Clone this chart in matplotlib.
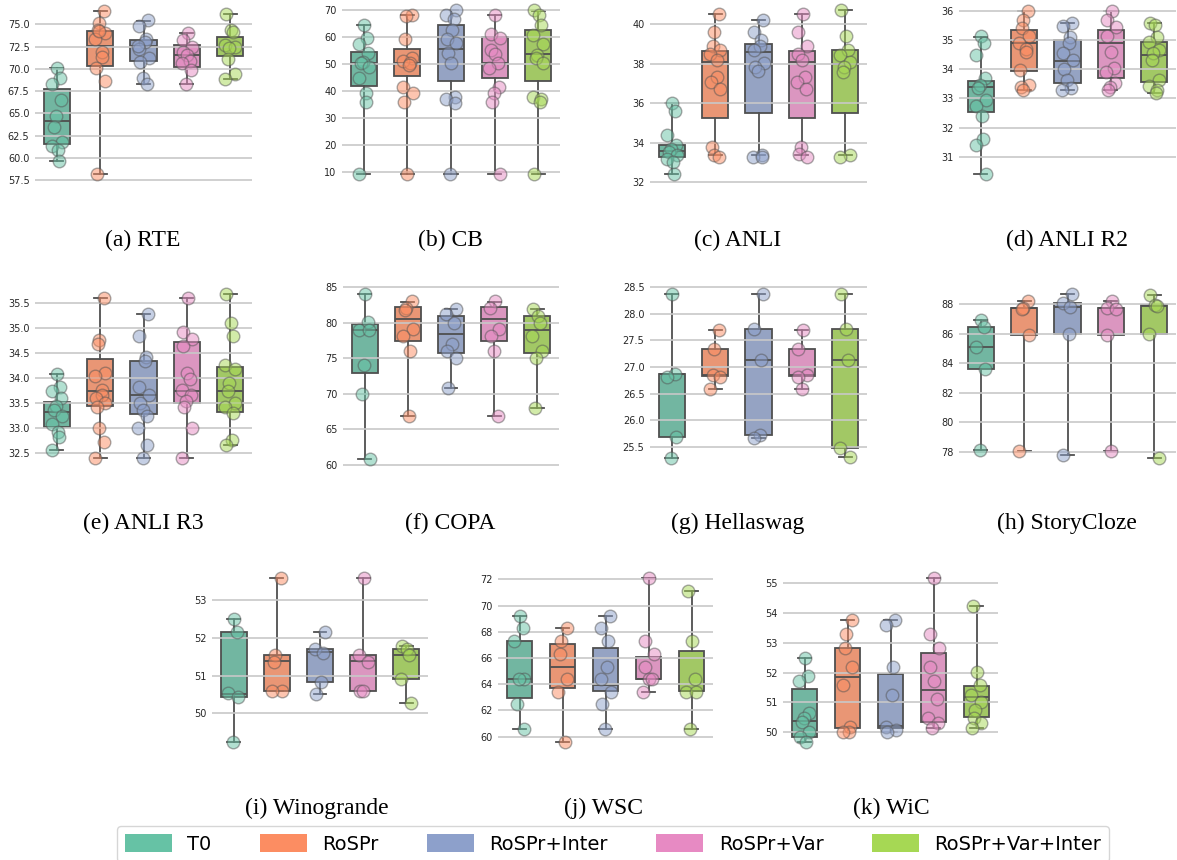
import colorsys
import numpy as np
import matplotlib
matplotlib.use("Agg")
import matplotlib.pyplot as plt
import matplotlib.colors as mcolors
from matplotlib.patches import Patch
from matplotlib.ticker import MultipleLocator

# %% data
methods = ["T0", "RoSPr", "RoSPr+Inter", "RoSPr+Var", "RoSPr+Var+Inter"]
palette = ["#66c2a5", "#fc8d62", "#8da0cb", "#e78ac3", "#a6d854"]

# boxes: [q1, median, q3, whisker low, whisker high] per method
rte_points = [
    [70.05, 69.0, 68.3, 66.5, 64.7, 63.5, 61.8, 61.3, 60.9, 59.6],
    [76.5, 75.1, 74.4, 74.0, 73.3, 71.9, 71.3, 70.05, 68.6, 58.2, 74.2],
    [75.5, 74.8, 73.3, 73.0, 72.2, 71.2, 70.8, 69.0, 68.3, 72.6],
    [74.0, 73.2, 72.5, 71.9, 71.5, 70.9, 70.6, 69.9, 68.3],
    [76.2, 74.4, 74.1, 72.7, 72.5, 72.3, 71.1, 69.4, 68.9],
]
rte_boxes = [
    [61.5, 64.1, 67.7, 59.6, 70.05],
    [70.3, 72.6, 74.3, 58.2, 76.5],
    [70.9, 72.6, 73.2, 68.3, 75.4],
    [70.2, 71.5, 72.7, 68.3, 74.0],
    [71.4, 72.4, 73.6, 68.9, 76.2],
]

cb_points = [
    [64.4, 59.5, 57.3, 53.9, 50.8, 50.2, 49.0, 44.6, 39.3, 35.7, 9.1],
    [68.0, 67.8, 59.1, 52.1, 51.2, 50.2, 49.6, 41.3, 39.3, 35.7, 9.1],
    [70.0, 68.1, 66.5, 62.6, 59.1, 57.6, 53.9, 50.2, 37.8, 36.8, 35.6, 9.1],
    [68.0, 61.1, 59.5, 55.1, 53.7, 50.2, 48.3, 41.3, 39.3, 35.7, 9.1],
    [70.0, 68.1, 64.4, 60.7, 57.3, 53.3, 52.1, 50.2, 37.8, 36.8, 35.7, 9.1],
]
cb_boxes = [
    [41.9, 50.2, 54.5, 9.1, 64.4],
    [45.5, 50.2, 55.4, 9.1, 68.0],
    [43.8, 55.4, 64.4, 9.1, 70.0],
    [44.6, 50.2, 59.9, 9.1, 68.0],
    [43.8, 53.7, 62.6, 9.1, 69.8],
]

anli_points = [
    [36.0, 35.6, 34.4, 33.9, 33.7, 33.55, 33.4, 33.2, 33.05, 32.42],
    [40.5, 39.6, 38.9, 38.7, 38.5, 38.2, 37.35, 37.1, 36.7, 33.8, 33.4, 33.3],
    [40.2, 39.6, 39.2, 38.9, 38.7, 38.06, 37.86, 37.65, 33.4, 33.3, 33.3],
    [40.5, 39.6, 38.9, 38.5, 38.2, 37.35, 37.1, 36.7, 33.8, 33.45, 33.3],
    [40.7, 39.4, 38.7, 38.45, 38.1, 37.86, 37.6, 33.4, 33.3],
]
anli_boxes = [
    [33.27, 33.6, 33.89, 32.42, 36.0],
    [35.24, 38.1, 38.65, 33.38, 40.5],
    [35.5, 38.6, 39.0, 33.38, 40.2],
    [35.24, 38.1, 38.65, 33.38, 40.5],
    [35.5, 38.0, 38.7, 33.38, 40.7],
]

anli_r2_points = [
    [35.14, 34.9, 34.5, 33.7, 33.45, 33.35, 32.95, 32.75, 32.4, 31.6, 31.4, 30.4],
    [36.0, 35.7, 35.4, 35.14, 34.9, 34.7, 34.6, 33.97, 33.45, 33.38, 33.29],
    [35.6, 35.5, 35.12, 34.9, 34.55, 34.32, 34.0, 33.63, 33.35, 33.29],
    [36.0, 35.7, 35.46, 35.14, 34.6, 34.03, 33.9, 33.52, 33.38, 33.29],
    [35.6, 35.52, 35.12, 34.95, 34.66, 34.55, 34.32, 33.63, 33.42, 33.29, 33.17],
]
anli_r2_boxes = [
    [32.55, 33.4, 33.6, 30.4, 35.12],
    [33.95, 34.9, 35.35, 33.3, 36.0],
    [33.52, 34.3, 35.0, 33.3, 35.6],
    [33.69, 34.9, 35.35, 33.3, 36.0],
    [33.56, 34.5, 34.95, 33.2, 35.6],
]

anli_r3_points = [
    [34.08, 33.83, 33.75, 33.6, 33.44, 33.36, 33.24, 33.08, 32.92, 32.83, 32.57],
    [35.59, 34.76, 34.68, 34.1, 34.03, 33.76, 33.66, 33.6, 33.5, 33.42, 33.0, 32.73, 32.4],
    [35.27, 34.84, 34.42, 34.33, 33.83, 33.66, 33.5, 33.36, 33.25, 33.0, 32.67, 32.4],
    [35.59, 34.92, 34.77, 34.64, 34.09, 33.99, 33.76, 33.66, 33.54, 33.42, 33.0, 32.4],
    [35.67, 35.09, 34.84, 34.26, 34.17, 33.91, 33.75, 33.51, 33.42, 33.31, 32.77, 32.67],
]
anli_r3_boxes = [
    [33.03, 33.32, 33.53, 32.57, 34.07],
    [33.44, 33.75, 34.37, 32.4, 35.59],
    [33.28, 33.66, 34.34, 32.4, 35.27],
    [33.5, 33.75, 34.71, 32.4, 35.59],
    [33.32, 33.75, 34.21, 32.67, 35.67],
]

copa_points = [
    [84.0, 80.1, 79.0, 79.0, 74.0, 70.0, 60.9],
    [83.1, 82.1, 81.8, 79.1, 78.1, 76.0, 66.9],
    [82.0, 81.2, 80.0, 77.0, 76.0, 75.0, 70.9],
    [83.1, 82.1, 79.1, 78.1, 76.0, 66.9],
    [82.0, 81.0, 80.0, 78.1, 76.0, 75.0, 68.0],
]
copa_boxes = [
    [73.0, 79.0, 79.9, 60.9, 84.0],
    [77.5, 80.5, 82.2, 66.9, 83.0],
    [75.7, 78.5, 81.0, 70.9, 82.0],
    [77.5, 80.5, 82.2, 66.9, 83.0],
    [75.7, 79.0, 81.0, 68.0, 82.0],
]

hellaswag_points = [
    [28.37, 26.87, 26.82, 25.68, 25.28],
    [27.7, 27.34, 26.85, 26.82, 26.59],
    [28.37, 27.71, 27.14, 25.72, 25.66],
    [27.7, 27.34, 26.85, 26.82, 26.59],
    [28.37, 27.71, 27.14, 25.47, 25.3],
]
hellaswag_boxes = [
    [25.68, 26.87, 26.87, 25.28, 28.37],
    [26.83, 26.85, 27.34, 26.59, 27.7],
    [25.72, 27.14, 27.71, 25.66, 28.37],
    [26.83, 26.85, 27.34, 26.59, 27.7],
    [25.47, 27.14, 27.71, 25.3, 28.37],
]

storycloze_points = [
    [86.94, 86.48, 85.08, 83.59, 78.11],
    [88.25, 87.77, 87.66, 85.92, 78.05],
    [88.68, 88.07, 87.84, 85.99, 77.77],
    [88.25, 87.77, 87.66, 85.92, 78.05],
    [88.63, 87.95, 87.89, 85.99, 77.59],
]
storycloze_boxes = [
    [83.59, 85.08, 86.48, 78.11, 86.94],
    [85.92, 87.73, 87.77, 78.05, 88.25],
    [85.99, 87.84, 88.07, 77.77, 88.68],
    [85.92, 87.73, 87.77, 78.05, 88.25],
    [85.99, 87.89, 87.95, 77.59, 88.63],
]

winogrande_points = [
    [52.49, 52.16, 50.53, 50.44, 49.25],
    [53.59, 51.54, 51.37, 50.59, 50.59],
    [52.16, 51.69, 51.59, 50.84, 50.5],
    [53.59, 51.54, 51.37, 50.59, 50.59],
    [51.78, 51.69, 51.54, 50.9, 50.28],
]
winogrande_boxes = [
    [50.42, 50.5, 52.16, 49.25, 52.49],
    [50.59, 51.38, 51.54, 50.59, 53.59],
    [50.84, 51.63, 51.69, 50.5, 52.16],
    [50.59, 51.38, 51.54, 50.59, 53.59],
    [50.9, 51.54, 51.69, 50.28, 51.78],
]

wsc_points = [
    [69.2, 68.26, 67.3, 64.4, 64.4, 62.47, 60.58],
    [68.26, 67.3, 66.3, 64.4, 63.43, 59.62],
    [69.2, 68.26, 67.3, 65.34, 64.4, 63.43, 62.47, 60.58],
    [72.1, 67.3, 66.3, 65.34, 64.4, 64.4, 63.43],
    [71.14, 67.3, 64.4, 63.43, 63.43, 60.58],
]
wsc_boxes = [
    [62.97, 64.4, 67.3, 60.58, 69.2],
    [63.69, 65.34, 67.04, 59.62, 68.26],
    [63.48, 63.94, 66.79, 60.58, 69.2],
    [64.4, 64.4, 66.1, 63.43, 72.1],
    [63.48, 63.48, 66.53, 60.58, 71.14],
]

wic_points = [
    [52.51, 51.9, 51.72, 50.64, 50.49, 50.36, 50.02, 49.85, 49.69],
    [53.77, 53.29, 52.82, 52.2, 51.59, 50.19, 50.0, 50.0],
    [53.77, 53.6, 52.2, 51.25, 50.19, 50.08, 50.0],
    [55.19, 53.29, 52.82, 52.2, 51.72, 51.12, 50.49, 50.3, 50.13],
    [54.24, 52.04, 51.59, 51.25, 51.03, 50.75, 50.47, 50.3, 50.13],
]
wic_boxes = [
    [49.85, 50.39, 51.44, 49.69, 52.51],
    [50.16, 51.87, 52.82, 50.0, 53.77],
    [50.16, 50.2, 51.95, 50.0, 53.77],
    [50.36, 51.42, 52.67, 50.13, 55.19],
    [50.53, 51.17, 51.55, 50.13, 54.24],
]

# %% layout (pixels in the 1177x860 canvas)
W, H = 1177, 860
LINE = "#4f4f4f"

def desaturate(color, prop=0.75):
    r, g, b = mcolors.to_rgb(color)
    h, l, s = colorsys.rgb_to_hls(r, g, b)
    return colorsys.hls_to_rgb(h, l, s * prop)

box_colors = [desaturate(c) for c in palette]

fig = plt.figure(figsize=(W / 100, H / 100), dpi=100)

def add_panel(x0, x1, pix_hi, val_hi, pix_lo, val_lo, ylim):
    # place axes so that two gridlines land on the given pixel rows
    scale = (pix_lo - pix_hi) / (val_hi - val_lo)
    top = pix_hi - (ylim[1] - val_hi) * scale
    bot = pix_lo + (val_lo - ylim[0]) * scale
    ax = fig.add_axes([x0 / W, 1 - bot / H, (x1 - x0) / W, (bot - top) / H])
    return ax

def draw_panel(ax, points, boxes, ylim, step, caption, cap_x, cap_y):
    stats = [dict(q1=b[0], med=b[1], q3=b[2], whislo=b[3], whishi=b[4], fliers=[])
             for b in boxes]
    bp = ax.bxp(stats, positions=range(5), widths=0.6, patch_artist=True,
                showfliers=False,
                boxprops=dict(edgecolor=LINE, linewidth=1.3),
                whiskerprops=dict(color=LINE, linewidth=1.3),
                capprops=dict(color=LINE, linewidth=1.3),
                medianprops=dict(color=LINE, linewidth=1.3))
    for patch, c in zip(bp["boxes"], box_colors):
        patch.set_facecolor(c)
    for i, vals in enumerate(points):
        jit = 0.12 * np.sin(np.arange(len(vals)) * 2.4 + i)
        ax.scatter(i + jit, vals, s=82, color=palette[i], alpha=0.5,
                   edgecolor="#555555", linewidth=1, zorder=3, clip_on=False)
    ax.set_xlim(-0.5, 4.5)
    ax.set_ylim(ylim)
    ax.set_xticks([])
    ax.yaxis.set_major_locator(MultipleLocator(step))
    ax.set_axisbelow(False)
    ax.yaxis.grid(True, color="#c8c8c8", linewidth=1.2)
    ax.tick_params(axis="y", length=0, pad=4, labelsize=7, labelcolor="#262626")
    for s in ax.spines.values():
        s.set_visible(False)
    fig.text(cap_x / W, 1 - cap_y / H, caption, ha="center", va="center",
             fontsize=17, family="Liberation Serif")

panels = [
    (rte_points, rte_boxes, (35, 252, 24.3, 75.0, 180.0, 57.5), (57.0, 77.0), 2.5, "(a) RTE", 143, 240),
    (cb_points, cb_boxes, (342, 560, 10.0, 70, 171.7, 10), (7, 71), 10, "(b) CB", 450, 240),
    (anli_points, anli_boxes, (650, 867, 24.3, 40, 182.3, 32), (31.8, 40.9), 2, "(c) ANLI", 738, 240),
    (anli_r2_points, anli_r2_boxes, (959, 1176, 11.0, 36, 156.7, 31), (30.2, 36.2), 1, "(d) ANLI R2", 1067, 240),
    (anli_r3_points, anli_r3_boxes, (35, 252, 302.7, 35.5, 453.3, 32.5), (32.3, 35.8), 0.5, "(e) ANLI R3", 143, 523),
    (copa_points, copa_boxes, (343, 559, 287.3, 85, 465.0, 60), (59.5, 85.5), 5, "(f) COPA", 450, 523),
    (hellaswag_points, hellaswag_boxes, (650, 867, 287.3, 28.5, 446.7, 25.5), (25.1, 28.6), 0.5, "(g) Hellaswag", 738, 523),
    (storycloze_points, storycloze_boxes, (959, 1176, 304.3, 88, 451.7, 78), (77.2, 88.9), 2, "(h) StoryCloze", 1067, 523),
    (winogrande_points, winogrande_boxes, (212, 428, 600.0, 53, 713.3, 50), (49.1, 53.8), 1, "(i) Winogrande", 317, 808),
    (wsc_points, wsc_boxes, (498, 713, 579.3, 72, 736.7, 60), (59.3, 72.6), 2, "(j) WSC", 604, 808),
    (wic_points, wic_boxes, (783, 998, 583.3, 55, 732.3, 50), (49.5, 55.4), 1, "(k) WiC", 891, 808),
]

for points, boxes, place, ylim, step, caption, cx, cy in panels:
    ax = add_panel(*place, ylim)
    draw_panel(ax, points, boxes, ylim, step, caption, cx, cy)

handles = [Patch(facecolor=c, edgecolor="none") for c in palette]
fig.legend(handles, methods, loc="upper center", bbox_to_anchor=(613 / W, 1 - 826 / H),
           ncol=5, fontsize=14, frameon=True, handlelength=2.4, handleheight=1.1,
           columnspacing=2.5, handletextpad=0.8, edgecolor="#cccccc", fancybox=True,
           borderaxespad=0)

fig.savefig("out.png", dpi=100)
